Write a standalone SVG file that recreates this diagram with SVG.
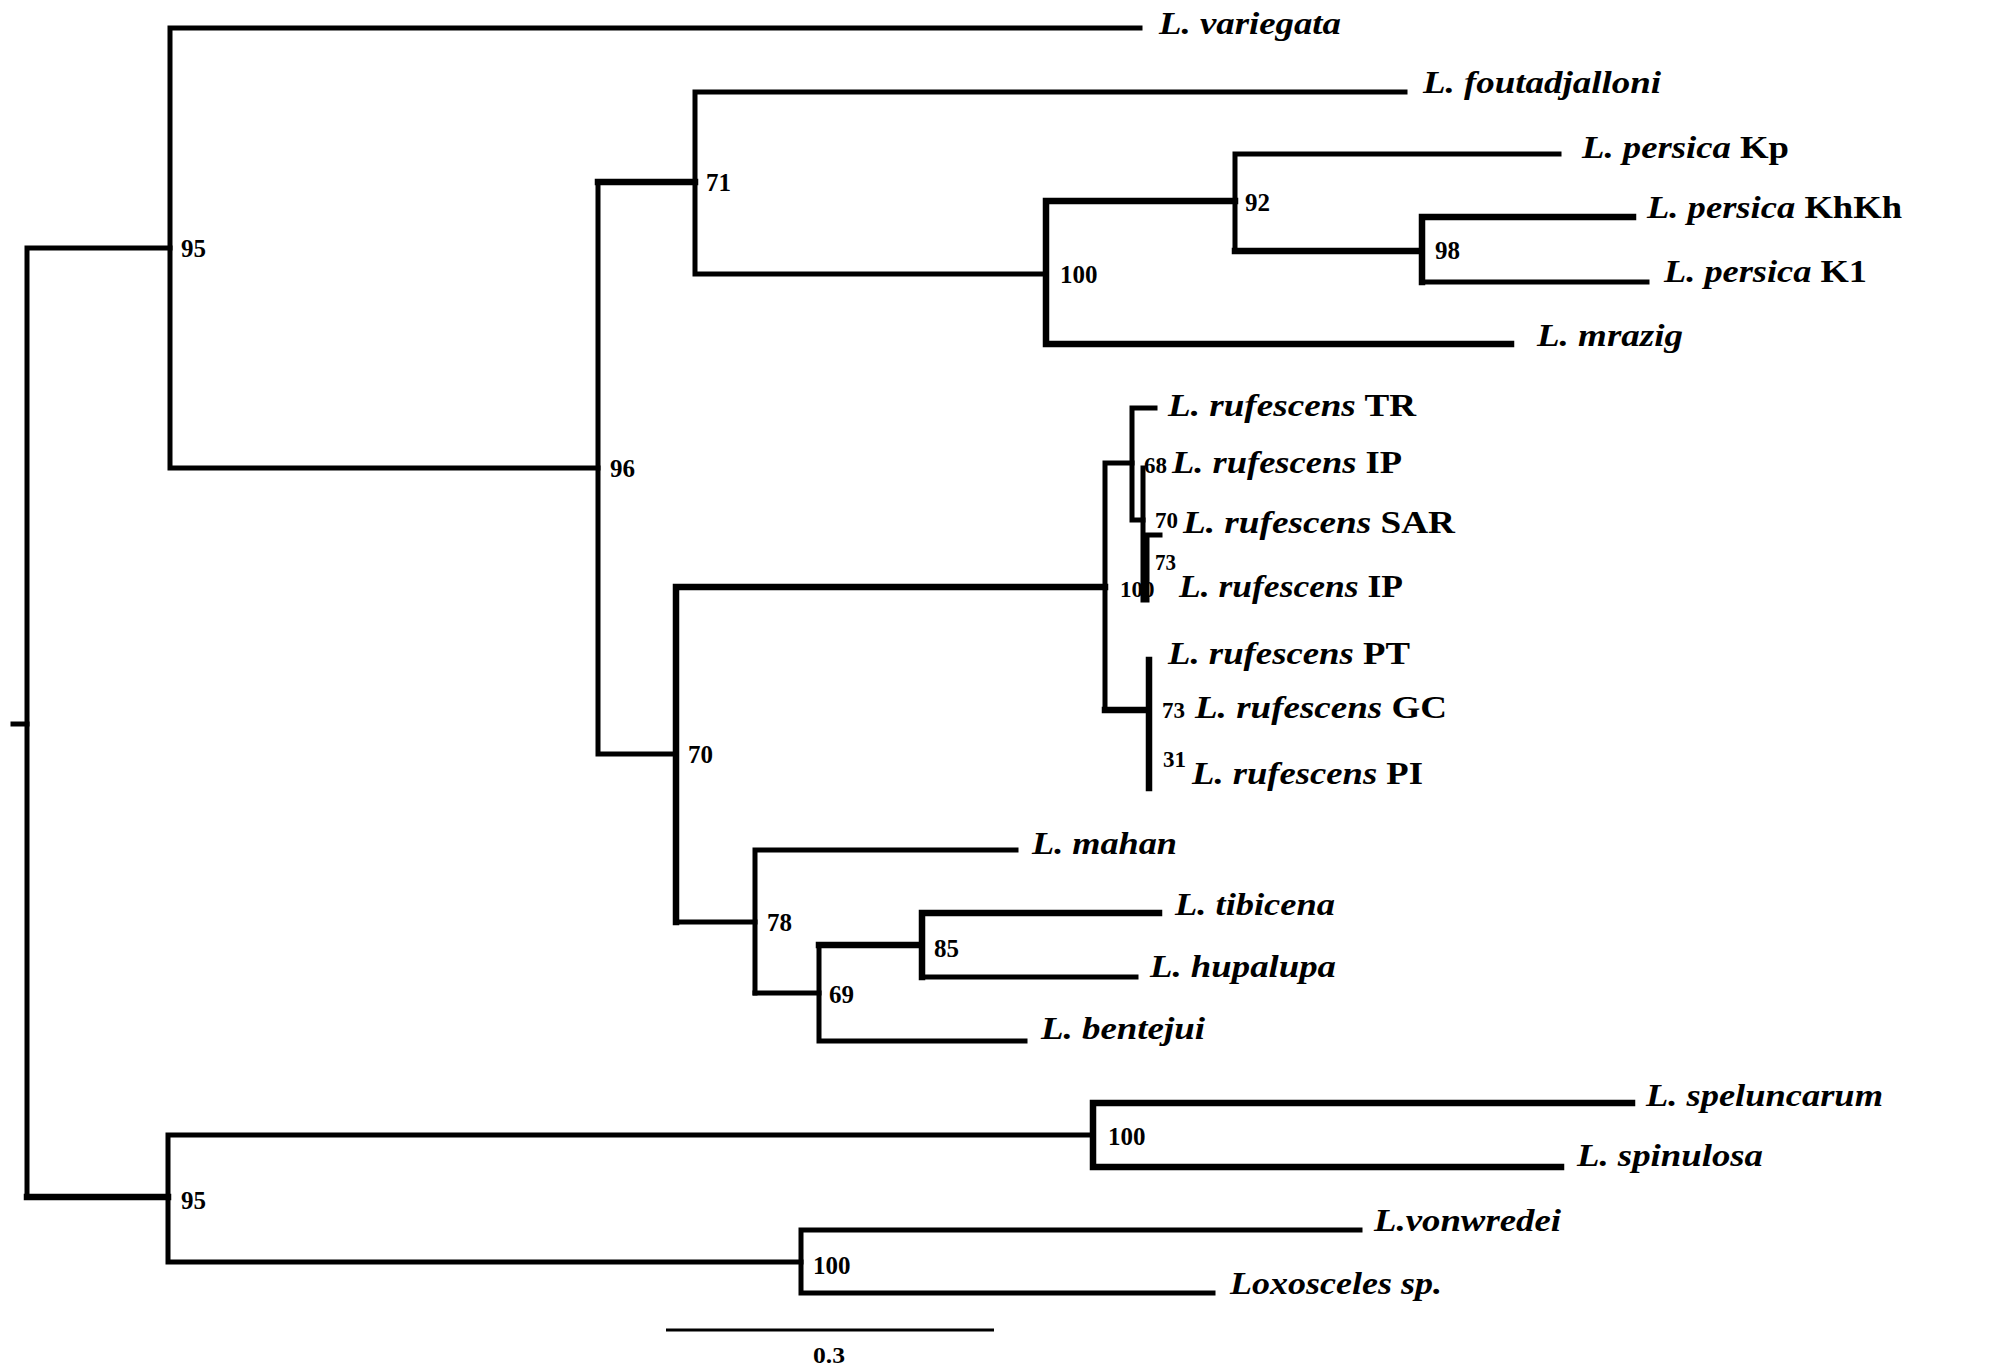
<svg xmlns="http://www.w3.org/2000/svg" width="2008" height="1368" viewBox="0 0 2008 1368">
<style>
.b{fill:none;stroke:#000;stroke-width:5;stroke-linecap:square}
.t{fill:none;stroke:#000;stroke-width:6.5;stroke-linecap:square}
.s{fill:none;stroke:#000;stroke-width:3}
.tx{font-family:"Liberation Serif","Times New Roman",serif;font-weight:bold;font-size:31px;fill:#000}
.it{font-style:italic}
.n{font-family:"Liberation Serif","Times New Roman",serif;font-weight:bold;font-size:25px;fill:#000}
.m{font-family:"Liberation Serif","Times New Roman",serif;font-weight:bold;font-size:23px;fill:#000}
</style>
<rect width="2008" height="1368" fill="#fff"/>
<g id="connectors">
<path class="b" d="M13 724H27"/>
<path class="b" d="M27 248V1197M27 248H170"/>
<path class="t" d="M27 1197H168"/>
<path class="b" d="M170 28V468M170 28H1140M170 468H598"/>
<path class="b" d="M598 182V754M598 754H676"/>
<path class="t" d="M598 182H695"/>
<path class="b" d="M695 92V274M695 92H1405M695 274H1046"/>
<path class="t" d="M1046 201V344M1046 201H1235M1046 344H1511"/>
<path class="b" d="M1235 154V251M1235 154H1559"/>
<path class="t" d="M1235 251H1422M1422 217V282M1422 217H1633"/>
<path class="b" d="M1422 282H1647"/>
<path class="t" d="M676 587V922M676 587H1105"/>
<path class="b" d="M676 922H755"/>
<path class="b" d="M1105 463V710M1105 463H1132"/>
<path class="t" d="M1105 710H1149M1149 660V788"/>
<path class="b" d="M1132 408V520M1132 408H1155M1132 520H1143"/>
<path class="b" d="M1143 468V600M1147 535V600M1143 535H1160"/>
<path class="b" d="M755 850V993M755 850H1016"/>
<path class="b" d="M755 993H819"/>
<path class="b" d="M819 945V1041M819 1041H1025"/>
<path class="t" d="M819 945H922M922 913V977M922 913H1159"/>
<path class="b" d="M922 977H1136"/>
<path class="b" d="M168 1135V1262M168 1135H1093M168 1262H801"/>
<path class="t" d="M1093 1103V1167M1093 1103H1632M1093 1167H1561"/>
<path class="b" d="M801 1230V1293M801 1230H1360M801 1293H1213"/>
<path class="s" d="M666 1330H994"/>
</g>
<g id="taxa">
<g id="t-variegata"><text class="tx it" x="1159" y="34" textLength="182" lengthAdjust="spacingAndGlyphs">L. variegata</text></g>
<g id="t-foutadjalloni"><text class="tx it" x="1423" y="93" textLength="238" lengthAdjust="spacingAndGlyphs">L. foutadjalloni</text></g>
<g id="t-persica-kp"><text class="tx" x="1582" y="158" textLength="207" lengthAdjust="spacingAndGlyphs"><tspan class="it">L. persica</tspan> Kp</text></g>
<g id="t-persica-khkh"><text class="tx" x="1647" y="218" textLength="255" lengthAdjust="spacingAndGlyphs"><tspan class="it">L. persica</tspan> KhKh</text></g>
<g id="t-persica-k1"><text class="tx" x="1664" y="282" textLength="203" lengthAdjust="spacingAndGlyphs"><tspan class="it">L. persica</tspan> K1</text></g>
<g id="t-mrazig"><text class="tx it" x="1537" y="346" textLength="146" lengthAdjust="spacingAndGlyphs">L. mrazig</text></g>
<g id="t-ruf-tr"><text class="tx" x="1168" y="416" textLength="248" lengthAdjust="spacingAndGlyphs"><tspan class="it">L. rufescens</tspan> TR</text></g>
<g id="t-ruf-ip1"><text class="tx" x="1172" y="473" textLength="230" lengthAdjust="spacingAndGlyphs"><tspan class="it">L. rufescens</tspan> IP</text></g>
<g id="t-ruf-sar"><text class="tx" x="1183" y="533" textLength="272" lengthAdjust="spacingAndGlyphs"><tspan class="it">L. rufescens</tspan> SAR</text></g>
<g id="t-ruf-ip2"><text class="tx" x="1179" y="597" textLength="224" lengthAdjust="spacingAndGlyphs"><tspan class="it">L. rufescens</tspan> IP</text></g>
<g id="t-ruf-pt"><text class="tx" x="1168" y="664" textLength="242" lengthAdjust="spacingAndGlyphs"><tspan class="it">L. rufescens</tspan> PT</text></g>
<g id="t-ruf-gc"><text class="tx" x="1195" y="718" textLength="252" lengthAdjust="spacingAndGlyphs"><tspan class="it">L. rufescens</tspan> GC</text></g>
<g id="t-ruf-pi"><text class="tx" x="1192" y="784" textLength="231" lengthAdjust="spacingAndGlyphs"><tspan class="it">L. rufescens</tspan> PI</text></g>
<g id="t-mahan"><text class="tx it" x="1032" y="854" textLength="145" lengthAdjust="spacingAndGlyphs">L. mahan</text></g>
<g id="t-tibicena"><text class="tx it" x="1175" y="915" textLength="160" lengthAdjust="spacingAndGlyphs">L. tibicena</text></g>
<g id="t-hupalupa"><text class="tx it" x="1150" y="977" textLength="186" lengthAdjust="spacingAndGlyphs">L. hupalupa</text></g>
<g id="t-bentejui"><text class="tx it" x="1041" y="1039" textLength="164" lengthAdjust="spacingAndGlyphs">L. bentejui</text></g>
<g id="t-speluncarum"><text class="tx it" x="1646" y="1106" textLength="237" lengthAdjust="spacingAndGlyphs">L. speluncarum</text></g>
<g id="t-spinulosa"><text class="tx it" x="1577" y="1166" textLength="186" lengthAdjust="spacingAndGlyphs">L. spinulosa</text></g>
<g id="t-vonwredei"><text class="tx it" x="1374" y="1231" textLength="187" lengthAdjust="spacingAndGlyphs">L.vonwredei</text></g>
<g id="t-loxosceles"><text class="tx it" x="1230" y="1294" textLength="212" lengthAdjust="spacingAndGlyphs">Loxosceles sp.</text></g>
</g>
<g id="support">
<g id="n-95a"><text class="n" x="181" y="257">95</text></g>
<g id="n-71"><text class="n" x="706" y="191">71</text></g>
<g id="n-96"><text class="n" x="610" y="477">96</text></g>
<g id="n-100p"><text class="n" x="1060" y="283">100</text></g>
<g id="n-92"><text class="n" x="1245" y="211">92</text></g>
<g id="n-98"><text class="n" x="1435" y="259">98</text></g>
<g id="n-70"><text class="n" x="688" y="763">70</text></g>
<g id="n-100r"><text class="m" x="1120" y="597">100</text></g>
<g id="n-68"><text class="m" x="1144" y="473">68</text></g>
<g id="n-70b"><text class="m" x="1155" y="528">70</text></g>
<g id="n-73a"><text class="m" x="1155" y="570" textLength="21" lengthAdjust="spacingAndGlyphs">73</text></g>
<g id="n-73b"><text class="m" x="1162" y="718">73</text></g>
<g id="n-31"><text class="m" x="1163" y="767">31</text></g>
<g id="n-78"><text class="n" x="767" y="931">78</text></g>
<g id="n-69"><text class="n" x="829" y="1003">69</text></g>
<g id="n-85"><text class="n" x="934" y="957">85</text></g>
<g id="n-100s"><text class="n" x="1108" y="1145">100</text></g>
<g id="n-95b"><text class="n" x="181" y="1209">95</text></g>
<g id="n-100v"><text class="n" x="813" y="1274">100</text></g>
</g>
<g id="scale"><text class="m" x="813" y="1363" textLength="32" lengthAdjust="spacingAndGlyphs">0.3</text></g>
</svg>
